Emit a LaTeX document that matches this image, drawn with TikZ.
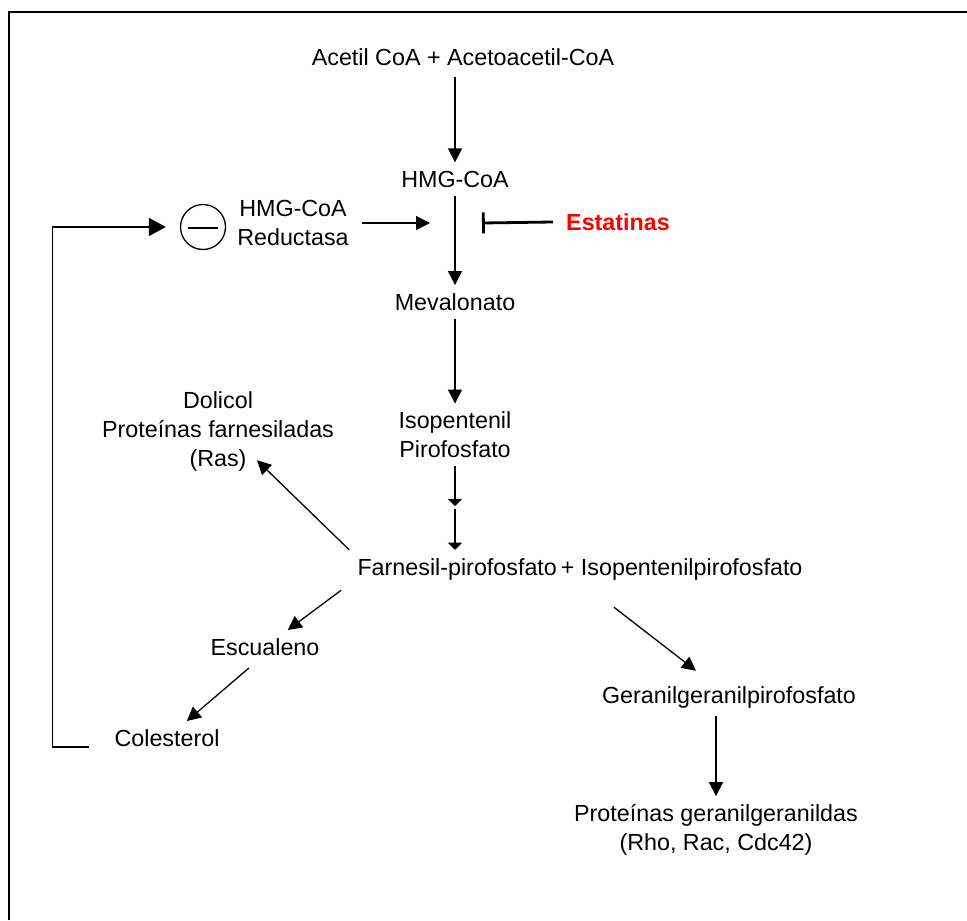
\documentclass[tikz,border=0pt]{standalone}
\usepackage{fontspec}
\setmainfont{Liberation Sans}
\usepackage{xcolor}
\usetikzlibrary{arrows.meta,calc}
\begin{document}
\begin{tikzpicture}[x=0.5pt, y=-0.5pt,
		font=\fontsize{11.65}{14.5}\selectfont,
		every node/.style={inner sep=4pt},
		paso/.style={align=center},
		flecha/.style={-{Triangle[length=7pt,width=7pt]}, line width=0.65pt},
		flechacorta/.style={-{Triangle[length=3.5pt,width=7pt]}, line width=0.65pt},
		flechagrande/.style={-{Triangle[length=8.5pt,width=9pt]}, line width=0.65pt},
		inhibe/.style={-{Bar[width=10.5pt]}, line width=1.4pt}]
	\useasboundingbox (0,0) rectangle (967,920);
	\draw[line width=1pt] (9,920) -- (9,12) -- (967,12);

	\node (acetil) at (463,57) {Acetil CoA + Acetoacetil-CoA};
	\node (hmg) at (455,179) {HMG-CoA};
	\node (meva) at (455,302) {Mevalonato};
	\node[paso] (ipp) at (455,435) {Isopentenil\\Pirofosfato};
	\node (fpp) at (580,569) {Farnesil-pirofosfato\kern2pt+ Isopentenilpirofosfato};
	\node[paso] (dolicol) at (218,431) {Dolicol\\Prote\'inas farnesiladas\\(Ras)};
	\node (escualeno) at (265,647) {Escualeno};
	\node (colesterol) at (167,738) {Colesterol};
	\node (ggpp) at (729,697) {Geranilgeranilpirofosfato};
	\node[paso] (prot) at (716,830) {Prote\'inas geranilgeranildas\\(Rho, Rac, Cdc42)};
	\node[paso] (reductasa) at (293,223) {HMG-CoA\\Reductasa};
	\node[circle, draw, line width=0.65pt, minimum size=22.5pt] (menos) at (203,227) {};
	\node[red, font=\fontsize{11.65}{14.5}\selectfont\bfseries] (estatinas) at (618,222) {Estatinas};
	\coordinate (union) at (455,223);
	\coordinate (enlace) at (455,506);

	\draw[line width=1.4pt] ($(menos)+(-15,1)$) -- ($(menos)+(15,1)$);

	\draw[flecha, shorten <=1.5pt] (acetil.south -| hmg) -- (hmg);
	\draw[flecha] (hmg) -- (meva);
	\draw[flecha] (meva) -- (ipp);
	\draw[flechacorta] (ipp) -- (enlace);
	\draw[flechacorta, shorten <=1.5pt] (enlace) -- (enlace |- fpp.north);
	\draw[flecha] (fpp.north west) -- ($(dolicol.south)+(39,-19)$);
	\draw[flecha] ($(fpp.south west)+(-8,2)$) -- (escualeno);
	\draw[flecha] ($(escualeno.south)+(-16,4)$) -- (colesterol);
	\draw[flecha] ($(fpp.south)+(34,19)$) -- ($(ggpp.north)+(-33,-7)$);
	\draw[flecha] (ggpp.south -| prot) -- (prot);
	\draw[flecha, shorten <=2.5pt, shorten >=12.5pt] (reductasa) -- (union);
	\draw[inhibe] ([xshift=-2.5pt]estatinas.west) -- ($(union)+(27,0)$);
	\draw[flechagrande, shorten >=7pt] ($(colesterol.west)+(-17,9)$) -- ++(-37,0) |- (menos);
\end{tikzpicture}
\end{document}
